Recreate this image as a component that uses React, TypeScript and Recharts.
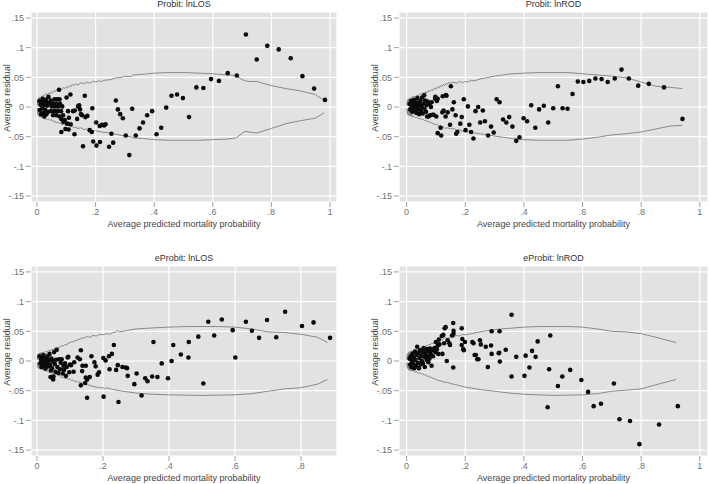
import { ScatterChart, Scatter, XAxis, YAxis, CartesianGrid } from 'recharts';

const FONT = '"Liberation Sans", Arial, sans-serif';

// tick values (Stata style labels)
const yTicks = [-0.15, -0.1, -0.05, 0, 0.05, 0.1, 0.15];
const xTicksTo1 = [0, 0.2, 0.4, 0.6, 0.8, 1];
const xTicksTo08 = [0, 0.2, 0.4, 0.6, 0.8];

const panelTitles = ['Probit: lnLOS', 'Probit: lnROD', 'eProbit: lnLOS', 'eProbit: lnROD'];
const xTitle = 'Average predicted mortality probability';
const yTitle = 'Average residual';

// ---- Probit: lnLOS ----
const probitLosDots = [
  [.008, .01], [.01, -.005], [.012, .004], [.014, -.012], [.016, .008], [.018, -.002], [.02, .014], [.021, -.01],
  [.023, .003], [.025, -.016], [.026, .009], [.028, -.005], [.03, .012], [.032, -.012], [.034, .002], [.036, .007],
  [.038, -.008], [.039, .017], [.043, .006], [.047, .011], [.048, -.007], [.05, .001], [.055, .006], [.055, -.014],
  [.06, .013], [.06, -.007], [.061, .001], [.066, .006], [.066, -.014], [.069, .013], [.071, -.007], [.072, .001],
  [.075, .029], [.077, .013], [.078, .006], [.077, -.016], [.082, -.007], [.083, -.042], [.083, -.02], [.086, .001],
  [.089, -.014], [.09, -.025], [.095, -.022], [.097, -.037], [.101, .016], [.103, -.028], [.106, -.007], [.108, -.038],
  [.109, -.018], [.114, .021], [.115, -.029], [.123, -.007], [.128, -.046], [.129, -.006], [.137, -.02], [.14, .001],
  [.144, .003], [.147, -.004], [.15, -.012], [.154, -.014], [.157, -.066], [.163, .019], [.165, -.017], [.172, -.015],
  [.18, -.039], [.187, -.042], [.189, -.002], [.192, -.058], [.202, -.026], [.203, -.065], [.214, -.032], [.215, -.059],
  [.222, -.03], [.229, -.031], [.234, -.029], [.246, -.067], [.254, -.045], [.26, -.06], [.269, .011], [.276, -.004],
  [.284, -.012], [.293, -.019], [.303, -.048], [.315, -.081], [.325, -.003], [.337, -.048], [.35, -.036], [.362, -.026],
  [.376, -.014], [.393, -.007], [.408, -.046], [.424, -.035], [.441, -.001], [.459, .019], [.478, .021], [.498, .015],
  [.519, -.017], [.544, .033], [.568, .032], [.594, .047], [.621, .044], [.651, .057], [.682, .053], [.713, .122],
  [.75, .08], [.786, .103], [.825, .097], [.866, .082], [.906, .052], [.946, .031], [.983, .012],
];
const probitLosUpper = [
  [.001, .002], [.002, .011], [.003, .004], [.004, .014], [.005, .006], [.007, .016], [.008, .008], [.01, .017],
  [.011, .009], [.013, .017], [.014, .01], [.016, .018], [.018, .012], [.02, .019], [.025, .02], [.03, .022],
  [.035, .021], [.04, .024], [.045, .022], [.05, .026], [.055, .024], [.06, .028], [.065, .026], [.07, .03],
  [.075, .027], [.08, .031], [.085, .029], [.09, .033], [.095, .031], [.1, .034], [.105, .032], [.11, .036],
  [.115, .034], [.12, .038], [.125, .036], [.13, .039], [.14, .037], [.15, .041], [.16, .039], [.17, .042],
  [.18, .04], [.19, .043], [.2, .042], [.21, .044], [.22, .043], [.23, .045], [.25, .046], [.27, .049],
  [.29, .05], [.3, .052], [.32, .051], [.33, .054], [.36, .055], [.4, .057], [.45, .058], [.5, .058],
  [.55, .057], [.6, .056], [.65, .054], [.68, .053], [.7, .046], [.72, .043], [.75, .043], [.8, .036],
  [.85, .031], [.9, .027], [.95, .021], [.98, .011],
];
const probitLosLower = [
  [.001, -.002], [.002, -.011], [.003, -.004], [.004, -.014], [.005, -.006], [.007, -.016], [.008, -.008], [.01, -.017],
  [.011, -.009], [.013, -.017], [.014, -.01], [.016, -.018], [.018, -.012], [.02, -.018], [.025, -.02], [.03, -.019],
  [.035, -.022], [.04, -.02], [.045, -.023], [.05, -.021], [.055, -.025], [.06, -.023], [.065, -.027], [.07, -.025],
  [.075, -.028], [.08, -.026], [.085, -.03], [.09, -.028], [.095, -.031], [.1, -.029], [.105, -.032], [.11, -.031],
  [.115, -.034], [.12, -.032], [.125, -.035], [.13, -.034], [.14, -.036], [.15, -.035], [.16, -.038], [.17, -.037],
  [.18, -.039], [.19, -.04], [.2, -.04], [.22, -.042], [.25, -.044], [.28, -.047], [.3, -.049], [.32, -.05],
  [.33, -.052], [.36, -.053], [.4, -.055], [.45, -.056], [.5, -.056], [.55, -.056], [.6, -.055], [.65, -.054],
  [.68, -.052], [.71, -.041], [.75, -.044], [.8, -.036], [.85, -.028], [.9, -.023], [.95, -.019], [.98, -.01],
];

// ---- Probit: lnROD ----
const probitRodDots = [
  [.01, .005], [.012, -.004], [.015, .01], [.017, .0], [.019, -.008], [.021, .006], [.023, -.002], [.025, .012],
  [.027, -.006], [.029, .003], [.031, .008], [.033, -.01], [.035, .001], [.037, .015], [.039, -.004], [.041, .007],
  [.043, -.012], [.045, .003], [.047, .01], [.049, -.007], [.051, .0], [.053, .016], [.055, -.011], [.057, .005],
  [.06, .02], [.061, -.003], [.063, .011], [.066, -.008], [.068, .003], [.07, -.016], [.072, .009], [.075, -.016],
  [.078, .005], [.08, -.014], [.083, .0], [.085, .008], [.088, -.013], [.092, -.013], [.097, .014], [.098, .017],
  [.101, -.016], [.103, .01], [.106, -.044], [.106, .014], [.116, -.035], [.118, -.048], [.122, -.009], [.123, .018],
  [.126, -.006], [.133, -.016], [.134, .02], [.136, .019], [.14, -.009], [.148, -.03], [.151, .035], [.156, -.004],
  [.161, .008], [.167, -.014], [.169, -.045], [.173, -.042], [.183, -.028], [.188, -.017], [.195, .013], [.201, -.039],
  [.209, .001], [.214, -.03], [.22, -.042], [.228, -.053], [.235, -.007], [.244, .0], [.251, -.026], [.26, -.006],
  [.267, -.024], [.278, -.048], [.288, -.033], [.297, -.043], [.307, .013], [.317, .008], [.329, -.021], [.34, -.026],
  [.35, -.017], [.361, -.033], [.374, -.057], [.385, -.051], [.399, -.019], [.411, -.024], [.425, .003], [.439, -.035],
  [.452, -.004], [.468, .002], [.483, -.026], [.5, -.002], [.516, .035], [.532, -.002], [.549, -.003], [.566, .022],
  [.584, .043], [.603, .042], [.623, .044], [.644, .048], [.665, .047], [.686, .042], [.71, .048], [.733, .063],
  [.758, .048], [.79, .036], [.826, .039], [.878, .033], [.941, -.02],
];
const probitRodUpper = [
  [.001, .002], [.002, .01], [.003, .004], [.004, .013], [.005, .006], [.007, .014], [.008, .007], [.01, .015],
  [.011, .009], [.013, .015], [.014, .01], [.016, .016], [.018, .012], [.02, .017], [.025, .018], [.03, .017],
  [.035, .02], [.04, .019], [.045, .022], [.05, .021], [.055, .024], [.06, .022], [.065, .026], [.07, .024],
  [.075, .028], [.08, .026], [.085, .029], [.09, .028], [.095, .032], [.1, .03], [.105, .034], [.11, .032],
  [.115, .036], [.12, .034], [.125, .038], [.13, .036], [.135, .04], [.14, .038], [.145, .042], [.15, .04],
  [.16, .042], [.17, .04], [.18, .043], [.19, .041], [.2, .043], [.21, .042], [.22, .045], [.23, .044],
  [.25, .047], [.27, .049], [.3, .052], [.33, .054], [.36, .056], [.4, .057], [.45, .058], [.5, .058],
  [.55, .058], [.6, .056], [.65, .054], [.7, .052], [.75, .049], [.8, .042], [.85, .035], [.9, .033], [.94, .031],
];
const probitRodLower = [
  [.001, -.002], [.002, -.01], [.003, -.004], [.004, -.013], [.005, -.006], [.007, -.014], [.008, -.007], [.01, -.015],
  [.011, -.009], [.013, -.015], [.014, -.01], [.016, -.016], [.018, -.012], [.02, -.017], [.025, -.016], [.03, -.018],
  [.035, -.017], [.04, -.02], [.045, -.019], [.05, -.021], [.055, -.02], [.06, -.023], [.065, -.022], [.07, -.025],
  [.075, -.024], [.08, -.027], [.085, -.026], [.09, -.029], [.095, -.028], [.1, -.03], [.105, -.029], [.11, -.032],
  [.115, -.031], [.12, -.034], [.125, -.033], [.13, -.036], [.14, -.035], [.15, -.037], [.16, -.036], [.17, -.039],
  [.18, -.038], [.19, -.041], [.2, -.041], [.22, -.043], [.25, -.045], [.28, -.047], [.3, -.049], [.33, -.051],
  [.36, -.053], [.4, -.055], [.45, -.056], [.5, -.056], [.55, -.056], [.6, -.054], [.65, -.051], [.7, -.047],
  [.75, -.045], [.8, -.042], [.85, -.037], [.9, -.032], [.94, -.031],
];

// ---- eProbit: lnLOS ----
const eprobitLosDots = [
  [.008, .008], [.01, -.004], [.012, .003], [.014, -.01], [.016, .006], [.018, -.002], [.02, .01], [.022, -.007],
  [.024, .002], [.026, -.013], [.028, .005], [.03, -.004], [.032, .008], [.034, -.009], [.036, .001], [.038, .012],
  [.04, -.006], [.041, -.027], [.042, -.016], [.044, .004], [.046, -.012], [.048, .0], [.049, -.031], [.05, -.026],
  [.052, .015], [.054, -.005], [.056, -.018], [.058, .002], [.06, .019], [.062, -.01], [.065, -.02], [.067, .003],
  [.07, -.014], [.072, -.003], [.075, .003], [.078, -.021], [.08, -.008], [.082, -.015], [.085, -.004], [.088, -.025],
  [.09, -.01], [.093, .006], [.095, .007], [.098, -.019], [.1, -.006], [.103, -.007], [.111, -.018], [.113, -.002],
  [.123, .006], [.13, .003], [.133, .018], [.133, -.041], [.137, -.017], [.138, -.008], [.146, -.037], [.148, -.008],
  [.148, -.028], [.152, -.031], [.152, -.062], [.16, -.027], [.165, .008], [.174, -.002], [.178, -.009], [.184, -.023],
  [.188, -.019], [.201, .005], [.202, -.06], [.208, .001], [.218, .008], [.22, -.014], [.227, .012], [.233, .027],
  [.24, -.015], [.245, -.007], [.247, -.069], [.259, -.01], [.269, -.011], [.273, -.012], [.275, -.025], [.295, -.039],
  [.302, -.021], [.317, -.058], [.328, -.029], [.335, -.034], [.349, -.026], [.353, .032], [.365, -.027], [.378, -.004],
  [.397, -.029], [.408, .0], [.413, .027], [.436, .011], [.459, .006], [.46, .032], [.489, .041], [.504, -.038],
  [.519, .066], [.537, .043], [.56, .07], [.593, .052], [.601, .006], [.633, .066], [.651, .051], [.673, .039],
  [.697, .069], [.725, .04], [.752, .083], [.803, .059], [.838, .065], [.888, .039],
];
const eprobitLosUpper = [
  [.001, .002], [.002, .01], [.003, .004], [.004, .012], [.005, .006], [.007, .013], [.008, .007], [.01, .014],
  [.011, .008], [.013, .014], [.014, .009], [.016, .015], [.018, .011], [.02, .014], [.025, .016], [.03, .015],
  [.035, .018], [.04, .017], [.045, .02], [.05, .019], [.055, .022], [.06, .021], [.065, .024], [.07, .023],
  [.075, .026], [.08, .025], [.085, .028], [.09, .027], [.095, .031], [.1, .03], [.105, .033], [.11, .032],
  [.115, .035], [.12, .034], [.125, .037], [.13, .036], [.135, .039], [.14, .038], [.15, .041], [.16, .04],
  [.17, .043], [.18, .042], [.19, .045], [.2, .044], [.21, .046], [.22, .045], [.23, .048], [.24, .049],
  [.245, .052], [.25, .049], [.27, .051], [.3, .054], [.33, .055], [.36, .056], [.4, .057], [.45, .058],
  [.5, .058], [.55, .058], [.6, .057], [.65, .054], [.7, .049], [.75, .048], [.8, .045], [.85, .04], [.88, .031],
];
const eprobitLosLower = [
  [.001, -.002], [.002, -.01], [.003, -.004], [.004, -.012], [.005, -.006], [.007, -.013], [.008, -.007], [.01, -.014],
  [.011, -.008], [.013, -.014], [.014, -.009], [.016, -.015], [.018, -.011], [.02, -.015], [.025, -.017], [.03, -.016],
  [.035, -.019], [.04, -.018], [.045, -.021], [.05, -.02], [.055, -.023], [.06, -.022], [.065, -.025], [.07, -.024],
  [.075, -.028], [.08, -.027], [.085, -.03], [.09, -.029], [.095, -.031], [.1, -.03], [.105, -.033], [.11, -.032],
  [.115, -.035], [.12, -.034], [.125, -.036], [.13, -.035], [.14, -.038], [.15, -.04], [.16, -.041], [.17, -.043],
  [.18, -.044], [.19, -.045], [.2, -.045], [.205, -.047], [.21, -.045], [.23, -.048], [.25, -.05], [.3, -.054],
  [.35, -.056], [.4, -.057], [.5, -.058], [.6, -.057], [.65, -.055], [.7, -.051], [.75, -.047], [.8, -.045],
  [.85, -.039], [.88, -.031],
];

// ---- eProbit: lnROD ----
const eprobitRodDots = [
  [.01, .004], [.012, -.006], [.014, .008], [.016, -.01], [.018, .0], [.02, .012], [.022, -.004], [.024, .006],
  [.026, -.012], [.028, .016], [.03, .002], [.032, -.008], [.034, .01], [.036, .024], [.038, -.003], [.04, .014],
  [.042, -.012], [.044, .005], [.046, .018], [.048, -.006], [.05, .009], [.052, .0], [.054, .015], [.056, -.004],
  [.058, .022], [.06, .007], [.062, -.01], [.064, .012], [.066, .018], [.068, .002], [.07, .02], [.072, .008],
  [.074, -.002], [.076, .016], [.078, .004], [.08, .021], [.082, .012], [.085, -.008], [.088, .018], [.09, .008],
  [.095, .022], [.098, .015], [.1, .032], [.103, .02], [.106, .026], [.108, .012], [.11, .036], [.112, .028],
  [.12, .042], [.122, .012], [.125, .044], [.128, .03], [.13, .055], [.133, .057], [.137, .0], [.14, .035],
  [.146, .03], [.148, .027], [.155, .043], [.159, .064], [.159, -.011], [.16, .051], [.16, .046], [.188, .055],
  [.188, .027], [.19, .037], [.193, .02], [.195, .018], [.199, .032], [.224, .032], [.228, .03], [.232, .01],
  [.236, .01], [.241, .003], [.245, .003], [.25, .035], [.253, .028], [.27, .024], [.277, -.01], [.288, .026],
  [.29, .05], [.29, .012], [.314, .013], [.316, .014], [.317, .05], [.318, -.001], [.338, .019], [.358, .078],
  [.358, -.026], [.374, .007], [.402, -.025], [.406, .009], [.419, -.011], [.428, .017], [.44, .007], [.447, .033],
  [.481, -.078], [.486, -.014], [.49, .043], [.516, -.042], [.531, -.026], [.558, -.015], [.596, -.032], [.619, -.052],
  [.638, -.076], [.663, -.072], [.707, -.038], [.726, -.098], [.762, -.101], [.794, -.14], [.861, -.107], [.925, -.076],
];
const eprobitRodUpper = [
  [.001, .002], [.002, .011], [.003, .004], [.004, .013], [.005, .006], [.007, .015], [.008, .008], [.01, .016],
  [.011, .009], [.013, .016], [.014, .01], [.016, .017], [.018, .012], [.02, .016], [.025, .018], [.03, .017],
  [.035, .02], [.04, .019], [.045, .022], [.05, .021], [.055, .024], [.06, .023], [.065, .026], [.07, .025],
  [.075, .028], [.08, .027], [.085, .03], [.09, .029], [.095, .033], [.1, .032], [.105, .035], [.11, .034],
  [.115, .037], [.12, .036], [.13, .039], [.14, .038], [.15, .041], [.16, .04], [.17, .043], [.18, .042],
  [.19, .045], [.2, .044], [.22, .046], [.25, .049], [.3, .053], [.35, .055], [.4, .057], [.45, .058],
  [.5, .058], [.55, .058], [.6, .057], [.65, .054], [.7, .05], [.75, .049], [.8, .046], [.85, .04], [.92, .031],
];
const eprobitRodLower = [
  [.001, -.002], [.002, -.011], [.003, -.004], [.004, -.013], [.005, -.006], [.007, -.015], [.008, -.008], [.01, -.016],
  [.011, -.009], [.013, -.016], [.014, -.01], [.016, -.017], [.018, -.012], [.02, -.017], [.025, -.016], [.03, -.019],
  [.035, -.018], [.04, -.021], [.045, -.02], [.05, -.022], [.055, -.021], [.06, -.024], [.065, -.023], [.07, -.026],
  [.075, -.025], [.08, -.028], [.085, -.027], [.09, -.03], [.095, -.029], [.1, -.031], [.11, -.033], [.12, -.034],
  [.13, -.036], [.14, -.036], [.15, -.038], [.17, -.04], [.2, -.044], [.25, -.048], [.3, -.051], [.35, -.054],
  [.4, -.056], [.5, -.058], [.6, -.057], [.65, -.055], [.7, -.051], [.75, -.049], [.8, -.047], [.85, -.04], [.92, -.031],
];

const toPts = (a: number[][]) => a.map(([x, y]) => ({ x, y }));

const fmt = (v: number) => {
  if (v === 0) return '0';
  return String(v).replace('0.', '.');
};

const renderDot = (p: any) => <circle cx={p.cx} cy={p.cy} r={2.3} fill="#0a0a0a" />;
const renderNone = () => <g />;

const PLOT_TOP = 12;
const PLOT_H = 190;
const Y_AXIS_W = 31;
const CHART_H = 230;

function Panel({
  title, dots, upper, lower, xDomain, xTicks, left, top, width, marginRight,
}: {
  title: string;
  dots: number[][];
  upper: number[][];
  lower: number[][];
  xDomain: [number, number];
  xTicks: number[];
  left: number;
  top: number;
  width: number;
  marginRight: number;
}) {
  const plotW = width - Y_AXIS_W - marginRight;
  return (
    <div style={{ position: 'absolute', left, top, width, height: CHART_H }}>
      <div
        style={{
          position: 'absolute', left: Y_AXIS_W, top: -2, width: plotW, textAlign: 'center',
          fontSize: 9, lineHeight: '12px', color: '#333', fontFamily: FONT, whiteSpace: 'nowrap',
        }}
      >
        {title}
      </div>
      <ScatterChart
        width={width}
        height={CHART_H}
        margin={{ top: PLOT_TOP, right: marginRight, bottom: 0, left: 0 }}
      >
        <CartesianGrid stroke="#ffffff" strokeWidth={1.2} fill="#e2e2e2" fillOpacity={1} />
        <XAxis
          type="number"
          dataKey="x"
          domain={xDomain}
          ticks={xTicks}
          interval={0}
          tickFormatter={fmt}
          axisLine={false}
          tickLine={{ stroke: '#a0a0a0' }}
          tickSize={5}
          tickMargin={2}
          height={CHART_H - PLOT_TOP - PLOT_H}
          tick={{ fill: '#707070', fontSize: 9, fontFamily: FONT }}
          label={{ value: xTitle, position: 'insideBottom', offset: 3, fill: '#444', fontSize: 9, fontFamily: FONT }}
        />
        <YAxis
          type="number"
          dataKey="y"
          domain={[-0.16, 0.16]}
          ticks={yTicks}
          interval={0}
          tickFormatter={fmt}
          axisLine={false}
          tickLine={{ stroke: '#a0a0a0' }}
          tickSize={5}
          tickMargin={2}
          width={Y_AXIS_W}
          tick={{ fill: '#707070', fontSize: 9, fontFamily: FONT }}
        />
        <Scatter data={toPts(upper)} shape={renderNone} line={{ stroke: '#8a8a8a', strokeWidth: 1 }} isAnimationActive={false} />
        <Scatter data={toPts(lower)} shape={renderNone} line={{ stroke: '#8a8a8a', strokeWidth: 1 }} isAnimationActive={false} />
        <Scatter data={toPts(dots)} shape={renderDot} isAnimationActive={false} />
      </ScatterChart>
      <div
        style={{
          position: 'absolute', left: 6.5, top: 97.5, transform: 'translate(-50%, -50%) rotate(-90deg)',
          fontSize: 9, lineHeight: '10px', color: '#444', fontFamily: FONT, whiteSpace: 'nowrap',
        }}
      >
        {yTitle}
      </div>
    </div>
  );
}

export default function App() {
  return (
    <div style={{ position: 'absolute', left: 0, top: 0, width: 709, height: 484, background: '#fff', overflow: 'hidden' }}>
      <Panel title={panelTitles[0]} dots={probitLosDots} upper={probitLosUpper} lower={probitLosLower}
        xDomain={[-0.0205, 1.024]} xTicks={xTicksTo1} left={0} top={0} width={354} marginRight={17} />
      <Panel title={panelTitles[1]} dots={probitRodDots} upper={probitRodUpper} lower={probitRodLower}
        xDomain={[-0.026, 1.028]} xTicks={xTicksTo1} left={368} top={0} width={341} marginRight={1} />
      <Panel title={panelTitles[2]} dots={eprobitLosDots} upper={eprobitLosUpper} lower={eprobitLosLower}
        xDomain={[-0.018, 0.909]} xTicks={xTicksTo08} left={0} top={254} width={354} marginRight={17} />
      <Panel title={panelTitles[3]} dots={eprobitRodDots} upper={eprobitRodUpper} lower={eprobitRodLower}
        xDomain={[-0.026, 1.028]} xTicks={xTicksTo1} left={368} top={254} width={341} marginRight={1} />
    </div>
  );
}
